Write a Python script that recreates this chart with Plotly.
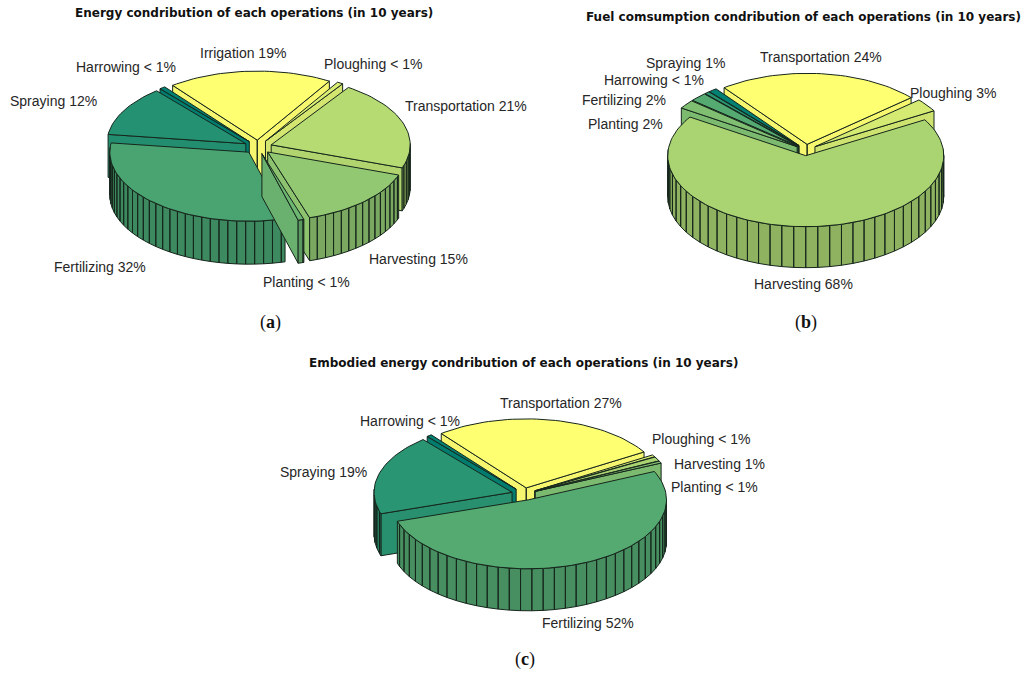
import math
import plotly.graph_objects as go

# ---------- data ----------
names_a = ["Irrigation", "Ploughing", "Transportation", "Harvesting", "Planting", "Fertilizing", "Spraying", "Harrowing"]
values_a = [19.5, 0.7, 21.5, 15, 0.7, 32, 12, 0.7]
labels_a = ["19%", "< 1%", "21%", "15%", "< 1%", "32%", "12%", "< 1%"]

names_b = ["Transportation", "Ploughing", "Harvesting", "Planting", "Fertilizing", "Harrowing", "Spraying"]
values_b = [24, 3, 68, 2, 2, 0.6, 1]
labels_b = ["24%", "3%", "68%", "2%", "2%", "< 1%", "1%"]

names_c = ["Transportation", "Ploughing", "Harvesting", "Planting", "Fertilizing", "Spraying", "Harrowing"]
values_c = [27, 0.5, 1, 0.5, 52, 19, 0.6]
labels_c = ["27%", "< 1%", "1%", "< 1%", "52%", "19%", "< 1%"]

title_a = "Energy condribution of each operations (in 10 years)"
title_b = "Fuel comsumption condribution of each operations (in 10 years)"
title_c = "Embodied energy condribution of each operations (in 10 years)"

# ---------- layout (pixel placement on a page-sized hidden axis) ----------
geom_a = dict(cx=258, cy=147, rx=139, ry=69, depth=43, start=-37.5, explode=0.1, facet=3.7)
geom_b = dict(cx=806, cy=150, rx=138, ry=71, depth=41, start=-37, explode=0.08, facet=5.0)
geom_c = dict(cx=524, cy=494, rx=138, ry=69, depth=42, start=-38, explode=0.09, facet=4.7)

label_xy_a = [(243, 53), (373, 64), (466, 106), (418, 259), (306, 282), (100, 267), (53, 101), (126, 67)]
label_xy_b = [(821, 57), (953, 93), (803, 284), (625, 124), (624, 100), (654, 80), (685, 63)]
label_xy_c = [(561, 403), (701, 439), (719, 464), (714, 487), (588, 623), (323, 472), (410, 421)]

EDGE = "#16261c"


def summer(i, n):
    t = 1 - i / (n - 1)
    return (t * 255, (0.5 + t / 2) * 255, 0.4 * 255 + 12)


def css(c, k=1.0):
    return "rgb(%d,%d,%d)" % tuple(min(255, round(v * k)) for v in c)


def pie3(fig, values, g):
    total = sum(values)
    n = len(values)
    slices = []
    a = g["start"]
    for i, v in enumerate(values):
        b = a + 360 * v / total
        slices.append((i, a, b))
        a = b
    slices.sort(key=lambda s: -math.cos(math.radians((s[1] + s[2]) / 2)))
    for i, a, b in slices:
        m = math.radians((a + b) / 2)
        ax = g["cx"] + g["explode"] * g["rx"] * math.sin(m)
        ay = g["cy"] - g["explode"] * g["ry"] * math.cos(m)

        def rim(deg):
            t = math.radians(deg)
            return ax + g["rx"] * math.sin(t), ay - g["ry"] * math.cos(t)

        col = summer(i, n)
        d = g["depth"]
        # cut faces
        fx, fy = [], []
        for deg, show in ((a, math.sin(math.radians(a)) < 0), (b, math.sin(math.radians(b)) > 0)):
            if show:
                x, y = rim(deg)
                fx += [ax, x, x, ax, ax, None]
                fy += [ay, y, y + d, ay + d, ay, None]
        if fx:
            fig.add_trace(go.Scatter(x=fx, y=fy, mode="lines", fill="toself", fillcolor=css(col, 0.97),
                                     line=dict(color=EDGE, width=1), hoverinfo="skip", showlegend=False))
        # outer wall facets
        f = g["facet"]
        ticks = [a]
        k = math.floor(a / f) + 1
        while k * f < b:
            ticks.append(k * f)
            k += 1
        ticks.append(b)
        wx, wy = [], []
        for t0, t1 in zip(ticks[:-1], ticks[1:]):
            if math.cos(math.radians((t0 + t1) / 2)) < 0.05:
                x0, y0 = rim(t0)
                x1, y1 = rim(t1)
                wx += [x0, x1, x1, x0, x0, None]
                wy += [y0, y1, y1 + d, y0 + d, y0, None]
        if wx:
            fig.add_trace(go.Scatter(x=wx, y=wy, mode="lines", fill="toself", fillcolor=css(col, 0.84),
                                     line=dict(color=EDGE, width=1), hoverinfo="skip", showlegend=False))
        # top face
        steps = max(2, int((b - a) / 2))
        pts = [rim(a + (b - a) * s / steps) for s in range(steps + 1)]
        tx = [ax] + [p[0] for p in pts] + [ax]
        ty = [ay] + [p[1] for p in pts] + [ay]
        fig.add_trace(go.Scatter(x=tx, y=ty, mode="lines", fill="toself", fillcolor=css(col),
                                 line=dict(color=EDGE, width=1), hoverinfo="skip", showlegend=False))


fig = go.Figure()
pie3(fig, values_a, geom_a)
pie3(fig, values_b, geom_b)
pie3(fig, values_c, geom_c)

annotations = []


def note(x, y, text, size, family="Liberation Sans", color="#262626"):
    annotations.append(dict(x=x, y=y, xref="x", yref="y", text=text, showarrow=False,
                            xanchor="center", yanchor="middle",
                            font=dict(family=family, size=size, color=color)))


for names, labels, xy in ((names_a, labels_a, label_xy_a), (names_b, labels_b, label_xy_b), (names_c, labels_c, label_xy_c)):
    for nm, lb, (x, y) in zip(names, labels, xy):
        note(x, y, f"{nm} {lb}", 14)

note(254, 13, f"<b>{title_a}</b>", 12, "DejaVu Sans", "#111111")
note(803, 17, f"<b>{title_b}</b>", 12, "DejaVu Sans", "#111111")
note(523, 363, f"<b>{title_c}</b>", 12, "DejaVu Sans", "#111111")
note(270, 322, "(<b>a</b>)", 18, "Liberation Serif", "#111111")
note(806, 322, "(<b>b</b>)", 18, "Liberation Serif", "#111111")
note(525, 659, "(<b>c</b>)", 18, "Liberation Serif", "#111111")

fig.update_layout(
    width=1024, height=677, margin=dict(l=0, r=0, t=0, b=0),
    paper_bgcolor="white", plot_bgcolor="white", showlegend=False,
    xaxis=dict(range=[0, 1024], visible=False, fixedrange=True),
    yaxis=dict(range=[677, 0], visible=False, fixedrange=True),
    annotations=annotations,
)
fig.write_html("out.html", config={"displayModeBar": False}, post_script="document.body.style.margin='0';")
